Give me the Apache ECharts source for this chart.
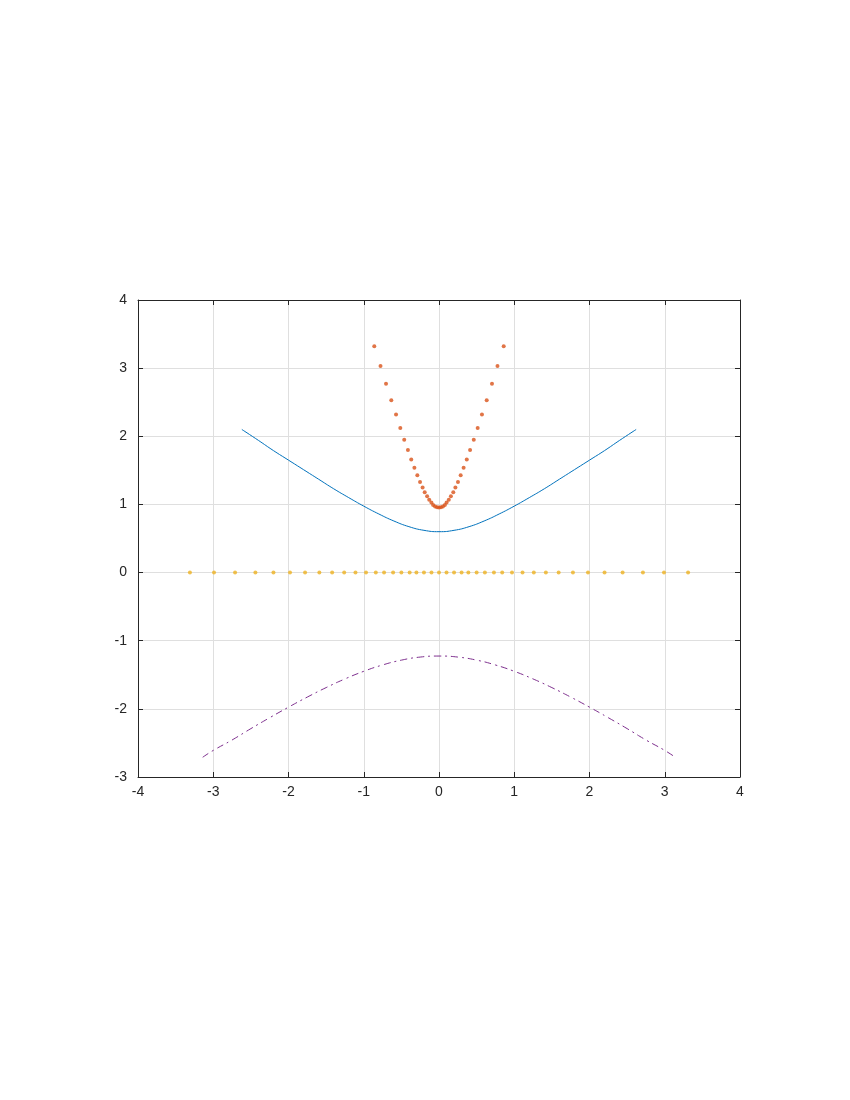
<!DOCTYPE html>
<html>
<head>
<meta charset="utf-8">
<script src="https://cdn.jsdelivr.net/npm/echarts@6/dist/echarts.min.js"></script>
<style>
  html, body { margin: 0; padding: 0; background: #ffffff; }
  #main { width: 850px; height: 1100px; }
</style>
</head>
<body>
<div id="main"></div>
<script>
// blue line (upper hyperbola)
var blueX = [-2.62, -2.4, -2.2, -2.0, -1.8, -1.6, -1.4, -1.2, -1.0, -0.8, -0.6, -0.4, -0.2, 0,
             0.2, 0.4, 0.6, 0.8, 1.0, 1.2, 1.4, 1.6, 1.8, 2.0, 2.2, 2.4, 2.62];
var blueY = [2.10, 1.94, 1.79, 1.65, 1.51, 1.37, 1.23, 1.10, 0.975, 0.86, 0.757, 0.674, 0.62, 0.60,
             0.62, 0.674, 0.757, 0.86, 0.975, 1.10, 1.23, 1.37, 1.51, 1.65, 1.79, 1.94, 2.10];

// red dots (steep parabola)
var redX = [-0.86, -0.777, -0.704, -0.634, -0.571, -0.514, -0.462, -0.413, -0.369, -0.327, -0.288,
            -0.252, -0.218, -0.19, -0.158, -0.13, -0.101, -0.078, -0.052, -0.026, 0,
            0.026, 0.052, 0.078, 0.101, 0.13, 0.158, 0.19, 0.218, 0.252, 0.288,
            0.327, 0.369, 0.413, 0.462, 0.514, 0.571, 0.634, 0.704, 0.777, 0.86];
var redY = [3.32, 3.03, 2.77, 2.53, 2.32, 2.12, 1.95, 1.80, 1.66, 1.54, 1.43,
            1.33, 1.25, 1.18, 1.12, 1.07, 1.03, 0.99, 0.97, 0.96, 0.955,
            0.96, 0.97, 0.99, 1.03, 1.07, 1.12, 1.18, 1.25, 1.33, 1.43,
            1.54, 1.66, 1.80, 1.95, 2.12, 2.32, 2.53, 2.77, 3.03, 3.32];

// yellow dots along y = 0
var yellowX = [-3.31, -2.99, -2.71, -2.44, -2.2, -1.98, -1.78, -1.59, -1.42, -1.26, -1.11,
               -0.97, -0.84, -0.73, -0.61, -0.5, -0.39, -0.3, -0.2, -0.1, 0,
               0.1, 0.2, 0.3, 0.39, 0.5, 0.61, 0.73, 0.84, 0.97, 1.11,
               1.26, 1.42, 1.59, 1.78, 1.98, 2.2, 2.44, 2.71, 2.99, 3.31];
var yellowY = [0, 0, 0, 0, 0, 0, 0, 0, 0, 0, 0, 0, 0, 0, 0, 0, 0, 0, 0, 0, 0,
               0, 0, 0, 0, 0, 0, 0, 0, 0, 0, 0, 0, 0, 0, 0, 0, 0, 0, 0, 0];

// purple dash-dot (lower hyperbola)
var purpleX = [-3.14, -3.0, -2.75, -2.5, -2.25, -2.0, -1.75, -1.5, -1.25, -1.0, -0.75, -0.5, -0.25, 0,
               0.25, 0.5, 0.75, 1.0, 1.25, 1.5, 1.75, 2.0, 2.25, 2.5, 2.75, 3.0, 3.14];
var purpleY = [-2.71, -2.61, -2.457, -2.29, -2.13, -1.975, -1.827, -1.688, -1.561, -1.449, -1.356, -1.285, -1.24, -1.225,
               -1.24, -1.285, -1.356, -1.449, -1.561, -1.688, -1.827, -1.975, -2.13, -2.29, -2.457, -2.61, -2.71];

function pairs(xs, ys) {
  var out = [];
  for (let i = 0; i < xs.length; i++) {
    out.push([xs[i], ys[i]]);
  }
  return out;
}

var axisColor = '#262626';
var gridColor = '#dfdfdf';
var labelFont = { color: axisColor, fontSize: 14, fontFamily: 'Liberation Sans, Arial, sans-serif' };

var myChart = echarts.init(document.getElementById('main'));
var option = {
  animation: false,
  backgroundColor: '#ffffff',
  grid: [{
    left: 138,
    right: 110,
    top: 300,
    bottom: 323,
    show: false
  }],
  xAxis: [{
    type: 'value',
    min: -4,
    max: 4,
    interval: 1,
    position: 'bottom',
    axisLine: { show: true, onZero: false, lineStyle: { color: axisColor, width: 1 } },
    axisTick: { show: true, inside: true, length: 5, lineStyle: { color: axisColor } },
    axisLabel: Object.assign({ margin: 8 }, labelFont),
    splitLine: { show: true, lineStyle: { color: gridColor, width: 1 } }
  }, {
    type: 'value',
    min: -4,
    max: 4,
    interval: 1,
    position: 'top',
    axisLine: { show: true, onZero: false, lineStyle: { color: axisColor, width: 1 } },
    axisTick: { show: true, inside: true, length: 5, lineStyle: { color: axisColor } },
    axisLabel: { show: false },
    splitLine: { show: false }
  }],
  yAxis: [{
    type: 'value',
    min: -3,
    max: 4,
    interval: 1,
    position: 'left',
    axisLine: { show: true, onZero: false, lineStyle: { color: axisColor, width: 1 } },
    axisTick: { show: true, inside: true, length: 5, lineStyle: { color: axisColor } },
    axisLabel: Object.assign({ margin: 11 }, labelFont),
    splitLine: { show: true, lineStyle: { color: gridColor, width: 1 } }
  }, {
    type: 'value',
    min: -3,
    max: 4,
    interval: 1,
    position: 'right',
    axisLine: { show: true, onZero: false, lineStyle: { color: axisColor, width: 1 } },
    axisTick: { show: true, inside: true, length: 5, lineStyle: { color: axisColor } },
    axisLabel: { show: false },
    splitLine: { show: false }
  }],
  series: [{
    name: 'blue',
    type: 'line',
    data: pairs(blueX, blueY),
    smooth: true,
    showSymbol: false,
    lineStyle: { color: '#0072BD', width: 1 },
    z: 3
  }, {
    name: 'red',
    type: 'scatter',
    data: pairs(redX, redY),
    symbol: 'circle',
    symbolSize: 4,
    itemStyle: { color: '#D95319' },
    z: 4
  }, {
    name: 'yellow',
    type: 'scatter',
    data: pairs(yellowX, yellowY),
    symbol: 'circle',
    symbolSize: 4,
    itemStyle: { color: '#EDB120' },
    z: 4
  }, {
    name: 'purple',
    type: 'line',
    data: pairs(purpleX, purpleY),
    smooth: true,
    showSymbol: false,
    lineStyle: { color: '#7E2F8E', width: 1, type: [7, 4, 2, 4] },
    z: 3
  }]
};
myChart.setOption(option);
</script>
</body>
</html>
